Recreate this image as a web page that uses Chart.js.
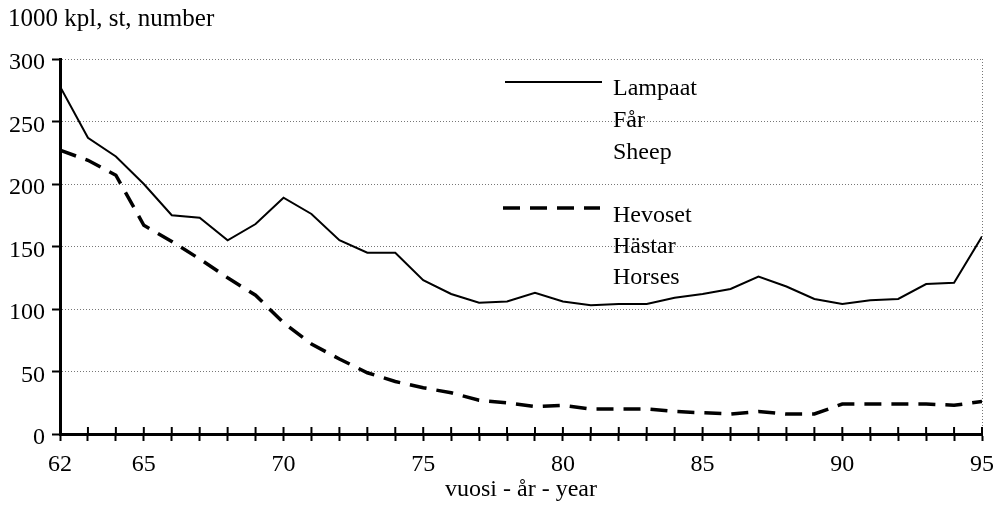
<!DOCTYPE html>
<html>
<head>
<meta charset="utf-8">
<script src="https://cdn.jsdelivr.net/npm/chart.js@4/dist/chart.umd.min.js"></script>
<style>
  html, body { margin: 0; padding: 0; background: #fff; }
  #wrap { width: 1006px; height: 514px; }
</style>
</head>
<body>
<div id="wrap"><canvas id="kaavio" width="1006" height="514"></canvas></div>
<script>
// vuodet 1962-1995
const vuodet = [62, 63, 64, 65, 66, 67, 68, 69, 70, 71, 72, 73, 74, 75, 76, 77, 78,
  79, 80, 81, 82, 83, 84, 85, 86, 87, 88, 89, 90, 91, 92, 93, 94, 95];

// 1000 kpl
const lampaat = [278, 237, 222, 200, 175, 173, 155, 168, 189, 176, 155, 145, 145, 123, 112, 105, 106,
  113, 106, 103, 104, 104, 109, 112, 116, 126, 118, 108, 104, 107, 108, 120, 121, 158];
const hevoset = [227, 219, 207, 167, 154, 140, 125, 111, 89, 72, 60, 49, 42, 37, 33, 27, 25,
  22, 23, 20, 20, 20, 18, 17, 16, 18, 16, 16, 24, 24, 24, 24, 23, 26];

const xLabels = [62, 65, 70, 75, 80, 85, 90, 95];
const yTicks = [0, 50, 100, 150, 200, 250, 300];

const legendSheep = ['Lampaat', 'Får', 'Sheep'];
const legendHorses = ['Hevoset', 'Hästar', 'Horses'];

const fontti = 'Liberation Serif, Times New Roman, serif';

// tekstit ja x-akselin ylöspäin menevät tikit
const omatPiirrot = {
  id: 'omatPiirrot',
  afterDraw(chart) {
    const ctx = chart.ctx;
    const x = chart.scales.x;
    const bottom = chart.chartArea.bottom;
    ctx.save();
    ctx.strokeStyle = '#000';
    ctx.lineWidth = 2;
    vuodet.forEach(v => {
      const px = x.getPixelForValue(v);
      ctx.beginPath();
      ctx.moveTo(px, bottom - 7);
      ctx.lineTo(px, bottom);
      ctx.stroke();
    });

    ctx.fillStyle = '#000';
    ctx.textBaseline = 'middle';
    ctx.font = '25px ' + fontti;
    ctx.fillText('1000 kpl, st, number', 8, 19);

    // selite
    ctx.font = '24px ' + fontti;
    ctx.lineWidth = 2;
    ctx.beginPath();
    ctx.moveTo(505, 82);
    ctx.lineTo(602, 82);
    ctx.stroke();
    legendSheep.forEach((t, i) => ctx.fillText(t, 613, 89 + i * 32));

    ctx.lineWidth = 3.5;
    ctx.setLineDash([17, 10]);
    ctx.beginPath();
    ctx.moveTo(503, 208);
    ctx.lineTo(600, 208);
    ctx.stroke();
    ctx.setLineDash([]);
    legendHorses.forEach((t, i) => ctx.fillText(t, 613, 216 + i * 31));
    ctx.restore();
  }
};

new Chart(document.getElementById('kaavio'), {
  type: 'line',
  data: {
    datasets: [{
      label: 'Lampaat',
      data: vuodet.map((v, i) => ({ x: v, y: lampaat[i] })),
      borderColor: '#000',
      borderWidth: 2,
      pointRadius: 0,
      tension: 0
    }, {
      label: 'Hevoset',
      data: vuodet.map((v, i) => ({ x: v, y: hevoset[i] })),
      borderColor: '#000',
      borderWidth: 3.5,
      borderDash: [17, 10],
      pointRadius: 0,
      tension: 0
    }]
  },
  options: {
    responsive: false,
    animation: false,
    layout: { padding: { top: 59, right: 24, left: 0, bottom: 0 } },
    plugins: {
      legend: { display: false },
      tooltip: { enabled: false }
    },
    scales: {
      x: {
        type: 'linear',
        min: 62,
        max: 95,
        afterFit(s) { s.height = 80; },
        afterBuildTicks(s) { s.ticks = vuodet.map(v => ({ value: v })); },
        ticks: {
          autoSkip: false,
          maxRotation: 0,
          padding: 9,
          color: '#000',
          font: { family: fontti, size: 24 },
          callback: v => xLabels.includes(v) ? String(v) : ''
        },
        grid: {
          color: c => c.tick && c.tick.value === 95 ? '#777' : 'rgba(0,0,0,0)',
          lineWidth: 1,
          tickLength: 7,
          tickColor: '#000',
          tickWidth: 2
        },
        border: { color: '#000', width: 3, dash: [1, 2] },
        title: {
          display: true,
          text: 'vuosi - år - year',
          color: '#000',
          font: { family: fontti, size: 24 },
          padding: { top: 0, bottom: 10 }
        }
      },
      y: {
        min: 0,
        max: 300,
        afterFit(s) { s.width = 60; },
        afterBuildTicks(s) { s.ticks = yTicks.map(v => ({ value: v })); },
        ticks: {
          padding: 7,
          labelOffset: 4,
          color: '#000',
          font: { family: fontti, size: 24 }
        },
        grid: {
          color: c => c.tick && c.tick.value === 0 ? 'rgba(0,0,0,0)' : '#777',
          lineWidth: 1,
          tickLength: 8,
          tickColor: '#000',
          tickWidth: 2
        },
        border: { color: '#000', width: 3, dash: [1, 2] }
      }
    }
  },
  plugins: [omatPiirrot]
});
</script>
</body>
</html>
